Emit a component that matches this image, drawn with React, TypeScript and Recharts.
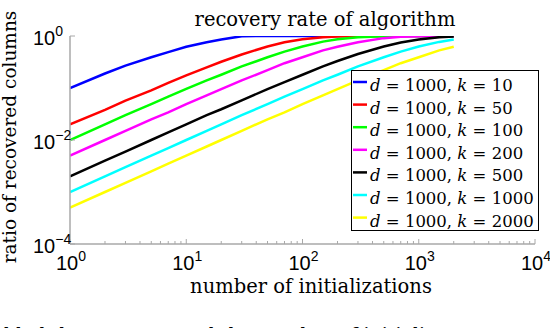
import { Legend, Line, LineChart, XAxis, YAxis } from "recharts";

// number of initializations (x) and recovered-column ratios (y)
const inits = [1, 2, 3, 5, 7, 10, 15, 20, 30, 50, 70, 100, 150, 200, 300, 500, 700, 1000, 1500, 2000];
const k10 = [0.1, 0.19, 0.27, 0.39, 0.49, 0.62, 0.76, 0.86, 0.99, 1, 1, 1, 1, 1, 1, 1, 1, 1, 1, 1];
const k50 = [0.02, 0.038, 0.057, 0.09, 0.125, 0.175, 0.25, 0.32, 0.44, 0.63, 0.76, 0.87, 0.95, 0.98, 1, 1, 1, 1, 1, 1];
const k100 = [0.01, 0.02, 0.03, 0.049, 0.068, 0.096, 0.14, 0.18, 0.26, 0.39, 0.5, 0.63, 0.78, 0.87, 0.95, 0.99, 1, 1, 1, 1];
const k200 = [0.005, 0.01, 0.015, 0.025, 0.034, 0.049, 0.072, 0.095, 0.14, 0.22, 0.3, 0.39, 0.53, 0.62, 0.76, 0.91, 0.97, 0.99, 1, 1];
const k500 = [0.002, 0.004, 0.006, 0.01, 0.014, 0.02, 0.03, 0.039, 0.058, 0.095, 0.13, 0.18, 0.26, 0.33, 0.45, 0.63, 0.75, 0.86, 0.95, 0.98];
const k1000 = [0.001, 0.002, 0.003, 0.005, 0.007, 0.01, 0.015, 0.02, 0.03, 0.049, 0.068, 0.095, 0.14, 0.18, 0.26, 0.39, 0.5, 0.63, 0.77, 0.86];
const k2000 = [0.0005, 0.001, 0.0015, 0.0025, 0.0035, 0.005, 0.0075, 0.01, 0.015, 0.025, 0.034, 0.049, 0.072, 0.095, 0.14, 0.22, 0.3, 0.39, 0.53, 0.62];

const kValues = ["10", "50", "100", "200", "500", "1000", "2000"];
const series = [k10, k50, k100, k200, k500, k1000, k2000];
const colors = ["#0000ff", "#ff0000", "#00ff00", "#ff00ff", "#000000", "#00ffff", "#ffff00"];

const xTicks = [
  1, 2, 3, 4, 5, 6, 7, 8, 9,
  10, 20, 30, 40, 50, 60, 70, 80, 90,
  100, 200, 300, 400, 500, 600, 700, 800, 900,
  1000, 2000, 3000, 4000, 5000, 6000, 7000, 8000, 9000,
  10000,
];
const yTicks = [0.0001, 0.01, 1];

const data = inits.map((n, i) => {
  const row: Record<string, number> = { n };
  series.forEach((s, j) => {
    row["k" + kValues[j]] = s[i];
  });
  return row;
});

const GRAY = "#a8a8a8";
const SERIF = "'DejaVu Serif', serif";
const SANS = "'Liberation Sans', Arial, sans-serif";

const expOf = (v: number) => Math.round(Math.log10(v));
const expText = (e: number) => (e < 0 ? "\u2212" + Math.abs(e) : String(e));

const XTick = (props: any) => {
  const { x, y, payload } = props;
  const v = payload.value;
  const e = expOf(v);
  const major = Math.abs(Math.log10(v) - e) < 1e-6;
  return (
    <g>
      <line x1={x} x2={x} y1={y} y2={y - (major ? 5 : 3)} stroke={GRAY} />
      {major && (
        <text x={x - 14} y={y + 26} fontFamily={SANS} fontSize={20} fill="#000">
          10
          <tspan dy={-9} fontSize={14}>{expText(e)}</tspan>
        </text>
      )}
    </g>
  );
};

const YTick = (props: any) => {
  const { x, y, payload } = props;
  const e = expOf(payload.value);
  return (
    <g>
      <line x1={x} x2={x + 5} y1={y} y2={y} stroke={GRAY} />
      <text x={33} y={y + 9} fontFamily={SANS} fontSize={20} fill="#000">
        10
        <tspan dy={-9} fontSize={14}>{expText(e)}</tspan>
      </text>
    </g>
  );
};

const LegendBox = (props: any) => {
  const items = [...(props.payload || [])].sort((a: any, b: any) => Number(a.value) - Number(b.value));
  return (
    <div style={{ width: 188, height: 161, border: "1px solid #000", background: "#fff", boxSizing: "border-box" }}>
      <svg width={186} height={159} style={{ display: "block" }}>
        {items.map((it: any, i: number) => {
          const cy = 11 + 22.6 * i;
          return (
            <g key={it.value}>
              <line x1={1} x2={15} y1={cy} y2={cy} stroke={it.color} strokeWidth={2.5} />
              <text x={18} y={cy + 9} fontFamily={SERIF} fontSize={16.5} fill="#000">
                <tspan fontStyle="italic">d</tspan>
                {" = 1000, "}
                <tspan fontStyle="italic">k</tspan>
                {" = " + it.value}
              </text>
            </g>
          );
        })}
      </svg>
    </div>
  );
};

export default function App() {
  return (
    <div style={{ position: "absolute", left: 0, top: 0, width: 550, height: 328, background: "#fff", overflow: "hidden" }}>
      <LineChart width={550} height={328} data={data} margin={{ top: 36, right: 15, bottom: 0, left: 0 }}>
        <XAxis
          dataKey="n"
          type="number"
          scale="log"
          domain={[1, 10000]}
          allowDataOverflow
          ticks={xTicks}
          interval={0}
          tick={<XTick />}
          tickSize={0}
          tickMargin={0}
          tickLine={false}
          axisLine={{ stroke: GRAY, strokeWidth: 1.5 }}
          height={84}
        />
        <YAxis
          type="number"
          scale="log"
          domain={[0.0001, 1]}
          allowDataOverflow
          ticks={yTicks}
          interval={0}
          tick={<YTick />}
          tickSize={0}
          tickMargin={0}
          tickLine={false}
          axisLine={{ stroke: GRAY, strokeWidth: 1.5 }}
          width={70}
        />
        <Legend
          layout="vertical"
          align="center"
          verticalAlign="middle"
          content={<LegendBox />}
          wrapperStyle={{ left: 351, top: 70, width: 188, height: 161 }}
        />
        {kValues.map((k, i) => (
          <Line
            key={k}
            dataKey={"k" + k}
            name={k}
            type="linear"
            stroke={colors[i]}
            strokeWidth={2.5}
            dot={false}
            isAnimationActive={false}
          />
        ))}
      </LineChart>
      <svg width={550} height={328} style={{ position: "absolute", left: 0, top: 0, pointerEvents: "none" }}>
        <text x={325} y={26} textAnchor="middle" fontFamily={SERIF} fontSize={19.5} fill="#000">
          recovery rate of algorithm
        </text>
        <text x={311} y={293} textAnchor="middle" fontFamily={SERIF} fontSize={19.5} fill="#000">
          number of initializations
        </text>
        <text transform="translate(16,137) rotate(-90)" textAnchor="middle" fontFamily={SERIF} fontSize={18.5} fill="#000">
          ratio of recovered columns
        </text>
        <text x={4} y={340.5} fontFamily={SERIF} fontSize={19} fill="#000">
          lded the recovery and the number of initiali
        </text>
      </svg>
    </div>
  );
}
